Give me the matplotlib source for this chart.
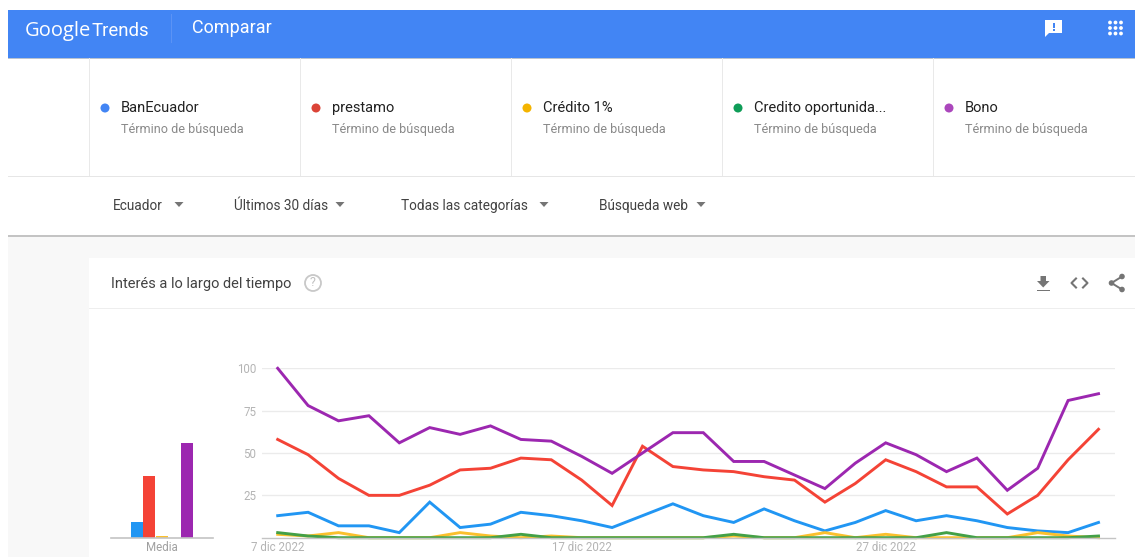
import matplotlib
matplotlib.use('Agg')
import matplotlib.pyplot as plt
from matplotlib.patches import Rectangle, Circle, Polygon
import numpy as np

plt.rcParams['font.family'] = ['Roboto', 'DejaVu Sans']

W, H = 1135, 557

terms = ['BanEcuador', 'prestamo', 'Crédito 1%', 'Credito oportunida...', 'Bono']
subtitle = 'Término de búsqueda'
dots = ['#4285f4', '#db4437', '#f4b400', '#0f9d58', '#ab47bc']
line_colors = ['#2196f3', '#f44336', '#fbc02d', '#43a047', '#9c27b0']
filters = ['Ecuador', 'Últimos 30 días', 'Todas las categorías', 'Búsqueda web']

date_labels = ['7 dic 2022', '17 dic 2022', '27 dic 2022']
date_ticks = [0, 10, 20]
y_ticks = [25, 50, 75, 100]

banecuador = [13, 15, 7, 7, 3, 21, 6, 8, 15, 13, 10, 6, 13, 20, 13, 9, 17, 10, 4, 9, 16, 10, 13, 10, 6, 4, 3, 9]
prestamo = [58, 49, 35, 25, 25, 31, 40, 41, 47, 46, 34, 19, 54, 42, 40, 39, 36, 34, 21, 32, 46, 39, 30, 30, 14, 25, 46, 64]
credito = [2, 1, 3, 0, 0, 0, 3, 1, 0, 1, 0, 0, 0, 0, 0, 1, 0, 0, 3, 0, 2, 0, 0, 0, 0, 3, 1, 0]
oportunidad = [3, 1, 0, 0, 0, 0, 0, 0, 2, 0, 0, 0, 0, 0, 0, 2, 0, 0, 0, 0, 0, 0, 3, 0, 0, 0, 0, 1]
bono = [100, 78, 69, 72, 56, 65, 61, 66, 58, 57, 48, 38, 50, 62, 62, 45, 45, 37, 29, 44, 56, 49, 39, 47, 28, 41, 81, 85]
series = [banecuador, prestamo, credito, oportunidad, bono]

averages = [9, 36.5, 1, 0, 56]


def axes_px(left, top, right, bottom, **kw):
    # axes placed by pixel edges, y counted from the top
    return fig.add_axes([left / W, 1 - bottom / H, (right - left) / W, (bottom - top) / H], **kw)


def rect(x0, y0, x1, y1, color, z=1):
    page.add_patch(Rectangle((x0, y0), x1 - x0, y1 - y0, fc=color, ec='none', zorder=z))


def caret(x, y):
    page.add_patch(Polygon([(x - 4.5, y - 2.5), (x + 4.5, y - 2.5), (x, y + 2.5)], fc='#757575', ec='none', zorder=3))


def label(x, y, s, color, size, **kw):
    page.text(x, y, s, color=color, fontsize=size, va='baseline', ha='left', zorder=5, **kw)


fig = plt.figure(figsize=(W / 100, H / 100), dpi=100, facecolor='white')

# page layer in pixel coordinates
page = axes_px(0, 0, W, H)
page.set_xlim(0, W)
page.set_ylim(H, 0)
page.axis('off')

rect(7.5, 236, W, H, '#f8f8f8')
rect(88.5, 258, W, H, 'white', 2)
rect(7.5, 10, W, 57.5, '#4285f4', 3)
rect(7.5, 57.5, W, 59, '#b9c3d0', 3)
rect(7.5, 235, W, 236.5, '#c4c4c4', 3)
rect(7.5, 175.5, W, 176.5, '#e6e6e6', 3)
rect(88.5, 308, W, 309, '#eeeeee', 3)
for x in [88.5, 299.5, 511, 722, 933]:
    rect(x, 58, x + 1, 176, '#e9e9e9', 3)
rect(171, 14, 172, 43, '#5b93f5', 4)

# header
label(25, 36, 'Google', 'white', 14.5, family='Open Sans')
label(92, 36, 'Trends', 'white', 13.4)
label(192, 33, 'Comparar', 'white', 13)

# feedback and apps icons
page.add_patch(Polygon([(1045, 20), (1062, 20), (1062, 33), (1049, 33), (1045, 37)], fc='white', ec='none', zorder=5))
rect(1052.8, 22.5, 1054.5, 27.5, '#4285f4', 6)
rect(1052.8, 29, 1054.5, 31, '#4285f4', 6)
for gx in [1110, 1115.5, 1121]:
    for gy in [22.5, 28, 33.5]:
        page.add_patch(Circle((gx, gy), 1.9, fc='white', ec='none', zorder=5))

# search terms
for i, term in enumerate(terms):
    x = 105 + 211 * i
    page.add_patch(Circle((x, 108), 4.5, fc=dots[i], ec='none', zorder=5))
    label(x + 16, 112.3, term, '#212121', 10.55)
    label(x + 16, 133, subtitle, '#8a8a8a', 9.1)

# filter row
filter_x = [113, 234, 401, 599]
caret_x = [179, 340, 544, 701]
for x, cx, text in zip(filter_x, caret_x, filters):
    label(x, 210, text, '#424242', 9.8)
    caret(cx, 204.5)

# card title and its icons
label(111, 288, 'Interés a lo largo del tiempo', '#424242', 10.5)
page.add_patch(Circle((313, 283), 8, fc='none', ec='#c8c8c8', lw=1.3, zorder=5))
page.text(313, 283, '?', color='#c0c0c0', fontsize=9, va='center', ha='center', zorder=5)

page.add_patch(Polygon([(1040.5, 276), (1046, 276), (1046, 281), (1049.5, 281), (1043.2, 287.5), (1037, 281), (1040.5, 281)],
                       fc='#757575', ec='none', zorder=5))
rect(1037, 289.5, 1049.5, 291, '#757575', 5)
page.plot([1076, 1071.5, 1076], [278.5, 283, 287.5], color='#757575', lw=1.5, zorder=5)
page.plot([1083, 1087.5, 1083], [278.5, 283, 287.5], color='#757575', lw=1.5, zorder=5)
page.plot([1122, 1111.5, 1122], [276.5, 283, 289.5], color='#757575', lw=1.4, zorder=5)
for sx, sy in [(1122, 276.5), (1111.5, 283), (1122, 289.5)]:
    page.add_patch(Circle((sx, sy), 2.8, fc='#757575', ec='none', zorder=5))

# line chart
left, right, step = 262, 1115, 30.4
first = 277.7
ax = axes_px(left, 368.3, right, 537.7)
ax.patch.set_alpha(0)
days = np.arange(len(banecuador))
for values, color in zip(series, line_colors):
    ax.plot(days, values, color=color, lw=2.1, clip_on=False, solid_joinstyle='miter')
ax.set_xlim((left - first) / step, (right - first) / step)
ax.set_ylim(0, 100)
ax.set_xticks(date_ticks, date_labels)
ax.set_yticks(y_ticks)
ax.tick_params(length=0, labelsize=8.3, labelcolor='#b4b4b4')
ax.tick_params(axis='x', pad=2.5)
ax.tick_params(axis='y', pad=4)
ax.grid(axis='y', color='#ebebeb', lw=1)
ax.set_axisbelow(True)
for name, spine in ax.spines.items():
    spine.set_visible(name == 'bottom')
ax.spines['bottom'].set_color('#c4c4c4')
ax.spines['bottom'].set_linewidth(1)

# averages bars
bx = axes_px(110.7, 368.3, 213, 537.7)
bx.patch.set_alpha(0)
bar_pos = np.arange(len(averages))
bx.bar(bar_pos, averages, width=0.95, color=line_colors)
bx.set_xlim(-2.06, 6.06)
bx.set_ylim(0, 100)
bx.set_xticks([2], ['Media'])
bx.set_yticks([])
bx.tick_params(length=0, labelsize=8.3, labelcolor='#a0a0a0', pad=2.5)
for name, spine in bx.spines.items():
    spine.set_visible(name == 'bottom')
bx.spines['bottom'].set_color('#c4c4c4')
bx.spines['bottom'].set_linewidth(1.2)

fig.savefig('out.png', dpi=100)
